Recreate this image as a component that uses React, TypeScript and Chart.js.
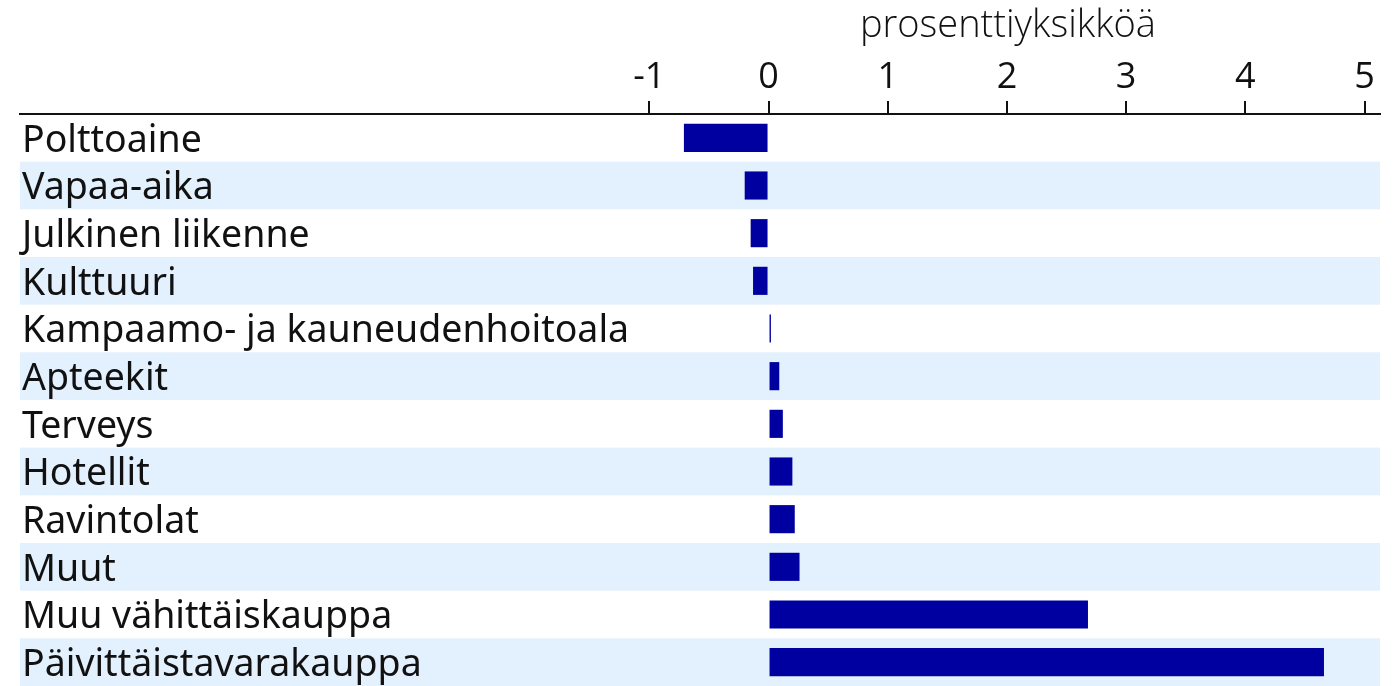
import React, { useEffect, useRef } from "react";
import { Chart, registerables } from "chart.js";

Chart.register(...registerables);

const categories = [
  "Polttoaine",
  "Vapaa-aika",
  "Julkinen liikenne",
  "Kulttuuri",
  "Kampaamo- ja kauneudenhoitoala",
  "Apteekit",
  "Terveys",
  "Hotellit",
  "Ravintolat",
  "Muut",
  "Muu vähittäiskauppa",
  "Päivittäistavarakauppa",
];
const values = [-0.71, -0.2, -0.15, -0.13, 0.02, 0.09, 0.12, 0.2, 0.22, 0.26, 2.68, 4.66];
const tickValues = [-1, 0, 1, 2, 3, 4, 5];
const axisTitle = "prosenttiyksikköä";

const bandsPlugin = {
  id: "bands",
  beforeDraw(chart: any) {
    const { ctx, chartArea } = chart;
    const y = chart.scales.y;
    const n = categories.length;
    const h = (chartArea.bottom - chartArea.top) / n;
    ctx.save();
    ctx.fillStyle = "#e3f0fd";
    for (let i = 1; i < n; i += 2) {
      const c = y.getPixelForValue(i);
      ctx.fillRect(chartArea.left, c - h / 2, chartArea.right - chartArea.left, h);
    }
    ctx.restore();
  },
};

const titlePlugin = {
  id: "axisTitleCustom",
  afterDraw(chart: any) {
    const { ctx } = chart;
    const x = chart.scales.x;
    ctx.save();
    ctx.fillStyle = "#111";
    ctx.font = "300 38px 'Open Sans'";
    ctx.textAlign = "center";
    ctx.textBaseline = "alphabetic";
    ctx.fillText(axisTitle, x.getPixelForValue(2) + 1, 37);
    ctx.restore();
  },
};

export default function App() {
  const ref = useRef<HTMLCanvasElement>(null);
  useEffect(() => {
    document.body.style.margin = "0";
    const chart = new Chart(ref.current!, {
      type: "bar",
      data: {
        labels: categories,
        datasets: [
          {
            data: values,
            backgroundColor: "#0000a0",
            borderWidth: 0,
            categoryPercentage: 1,
            barPercentage: 0.59,
          },
        ],
      },
      options: {
        indexAxis: "y",
        animation: false,
        responsive: false,
        layout: { padding: { left: 20, right: 17, top: 0, bottom: 0 } },
        plugins: { legend: { display: false }, tooltip: { enabled: false } },
        scales: {
          x: {
            type: "linear",
            position: "top",
            min: -6.28,
            max: 5.13,
            afterBuildTicks: (s: any) => {
              s.ticks = tickValues.map((v) => ({ value: v }));
            },
            afterFit: (s: any) => {
              s.height = 114;
              s.paddingLeft = 0;
              s.paddingRight = 0;
            },
            ticks: {
              color: "#111",
              font: { family: "'Open Sans'", size: 36 },
              padding: 2,
              autoSkip: false,
              maxRotation: 0,
              callback: (v: any) => String(v),
            },
            grid: {
              drawOnChartArea: false,
              drawTicks: true,
              tickLength: 13,
              color: "#111",
              lineWidth: 2,
            },
            border: { display: true, color: "#111", width: 2 },
          },
          y: {
            type: "category",
            position: "left",
            afterFit: (s: any) => {
              s.width = 0;
              s.paddingTop = 0;
              s.paddingBottom = 0;
            },
            ticks: {
              mirror: true,
              padding: 2,
              labelOffset: 3,
              autoSkip: false,
              color: "#111",
              font: { family: "'Noto Sans'", size: 37.5 },
            },
            grid: { display: false, drawTicks: false },
            border: { display: false },
          },
        },
      },
      plugins: [bandsPlugin, titlePlugin],
    });
    return () => chart.destroy();
  }, []);
  return (
    <div style={{ width: 1397, height: 686 }}>
      <canvas ref={ref} width={1397} height={686} />
    </div>
  );
}
